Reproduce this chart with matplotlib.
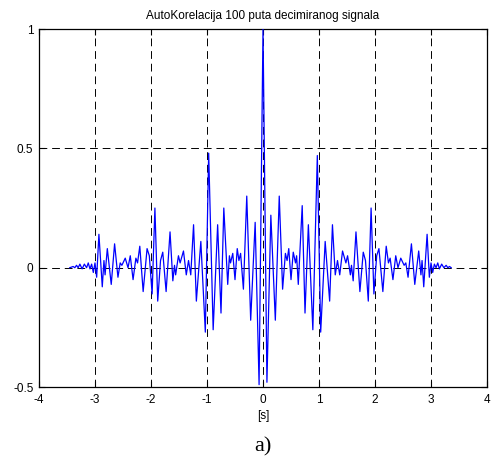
import numpy as np
import matplotlib.pyplot as plt

# extrema of the autocorrelation (lag in s, value)
lag = [-3.45, -3.39, -3.36, -3.33, -3.30, -3.27, -3.23, -3.19, -3.15, -3.12, -3.09,
       -3.06, -3.03, -3.00, -2.97, -2.93, -2.87, -2.84, -2.82, -2.78, -2.71, -2.65,
       -2.59, -2.55, -2.52, -2.46, -2.41, -2.37, -2.32, -2.27, -2.24, -2.20, -2.14,
       -2.07, -2.03, -1.98, -1.93, -1.88, -1.83, -1.79, -1.73, -1.66, -1.61, -1.58,
       -1.56, -1.51, -1.48, -1.42, -1.37, -1.33, -1.29, -1.24, -1.19, -1.11, -1.03,
       -0.97, -0.89, -0.81, -0.75, -0.70, -0.63, -0.60, -0.58, -0.54, -0.50, -0.46,
       -0.43, -0.40, -0.35, -0.29, -0.22, -0.14, -0.07,
       0.00,
       0.07, 0.14, 0.22, 0.29, 0.35, 0.40, 0.43, 0.46, 0.50, 0.54, 0.58, 0.60, 0.63,
       0.70, 0.75, 0.81, 0.89, 0.97, 1.03, 1.11, 1.19, 1.24, 1.29, 1.33, 1.37, 1.42,
       1.48, 1.51, 1.56, 1.58, 1.61, 1.66, 1.73, 1.79, 1.83, 1.88, 1.93, 1.98, 2.03,
       2.07, 2.14, 2.20, 2.24, 2.27, 2.32, 2.37, 2.41, 2.46, 2.52, 2.55, 2.59, 2.65,
       2.71, 2.78, 2.82, 2.84, 2.87, 2.93, 2.97, 3.00, 3.03, 3.06, 3.09, 3.12, 3.15,
       3.19, 3.23, 3.27, 3.30, 3.33, 3.36]
korelacija = [0.0, 0.005, 0.0, 0.01, 0.0, 0.015, -0.005, 0.015, 0.0, 0.02, -0.005,
              0.015, -0.02, 0.02, -0.04, 0.14, -0.08, 0.03, -0.03, 0.08, -0.07, 0.10,
              -0.04, 0.02, 0.01, 0.04, 0.0, 0.05, -0.05, 0.04, 0.02, 0.09, -0.10,
              0.08, 0.05, -0.11, 0.25, -0.14, 0.03, 0.065, -0.10, 0.15, -0.055, 0.01,
              -0.03, 0.05, 0.02, 0.07, -0.03, 0.03, -0.03, 0.18, -0.14, 0.11, -0.27,
              0.48, -0.26, 0.18, -0.19, 0.25, -0.07, 0.05, 0.02, 0.06, -0.05, 0.08,
              0.03, 0.06, -0.09, 0.30, -0.22, 0.19, -0.49,
              1.00,
              -0.48, 0.22, -0.22, 0.30, -0.09, 0.06, 0.03, 0.08, -0.05, 0.065, 0.02, 0.05, -0.07,
              0.26, -0.19, 0.18, -0.26, 0.47, -0.27, 0.11, -0.14, 0.18, -0.03, 0.03, -0.03, 0.07,
              0.02, 0.05, -0.03, 0.01, -0.055, 0.15, -0.10, 0.065, 0.03, -0.14, 0.25, -0.11, 0.05,
              0.08, -0.10, 0.09, 0.02, 0.04, -0.05, 0.05, 0.0, 0.04, 0.01, 0.02, -0.04, 0.10,
              -0.07, 0.07, -0.03, 0.03, -0.08, 0.14, -0.04, 0.02, -0.02, 0.015, 0.0, 0.02, -0.005,
              0.015, 0.0, 0.01, 0.0, 0.005, 0.0]

xticks = [-4, -3, -2, -1, 0, 1, 2, 3, 4]
yticks = [-0.5, 0, 0.5, 1]
ytick_labels = ['-0.5', '0', '0.5', '1']

plt.rcParams['font.family'] = ['Liberation Sans', 'DejaVu Sans']

fig = plt.figure(figsize=(4.91, 4.68), dpi=100)
ax = fig.add_axes([0.0794, 0.173, 0.9125, 0.765])

ax.plot(lag, korelacija, color='#0000ff', lw=0.9, zorder=3)

ax.set_xlim(-4, 4)
ax.set_ylim(-0.5, 1)
ax.set_xticks(xticks)
ax.set_xticklabels([str(t) for t in xticks])
ax.set_yticks(yticks)
ax.set_yticklabels(ytick_labels)
ax.grid(True, color='black', lw=0.7, linestyle=(0, (8, 5)))
ax.tick_params(direction='in', length=4, width=0.8, top=True, right=True,
               labelsize=8.5, colors='black')
ax.tick_params(axis='x', pad=5)
ax.tick_params(axis='y', pad=4)
for s in ax.spines.values():
    s.set_linewidth(0.9)

ax.set_title('AutoKorelacija 100 puta decimiranog signala', fontsize=8.5, pad=7)
ax.set_xlabel('[s]', fontsize=8.5, labelpad=3)

fig.text(0.536, 0.045, 'a)', fontsize=16, family='Liberation Serif',
         ha='center', va='center')

fig.savefig('out.png', dpi=100)
